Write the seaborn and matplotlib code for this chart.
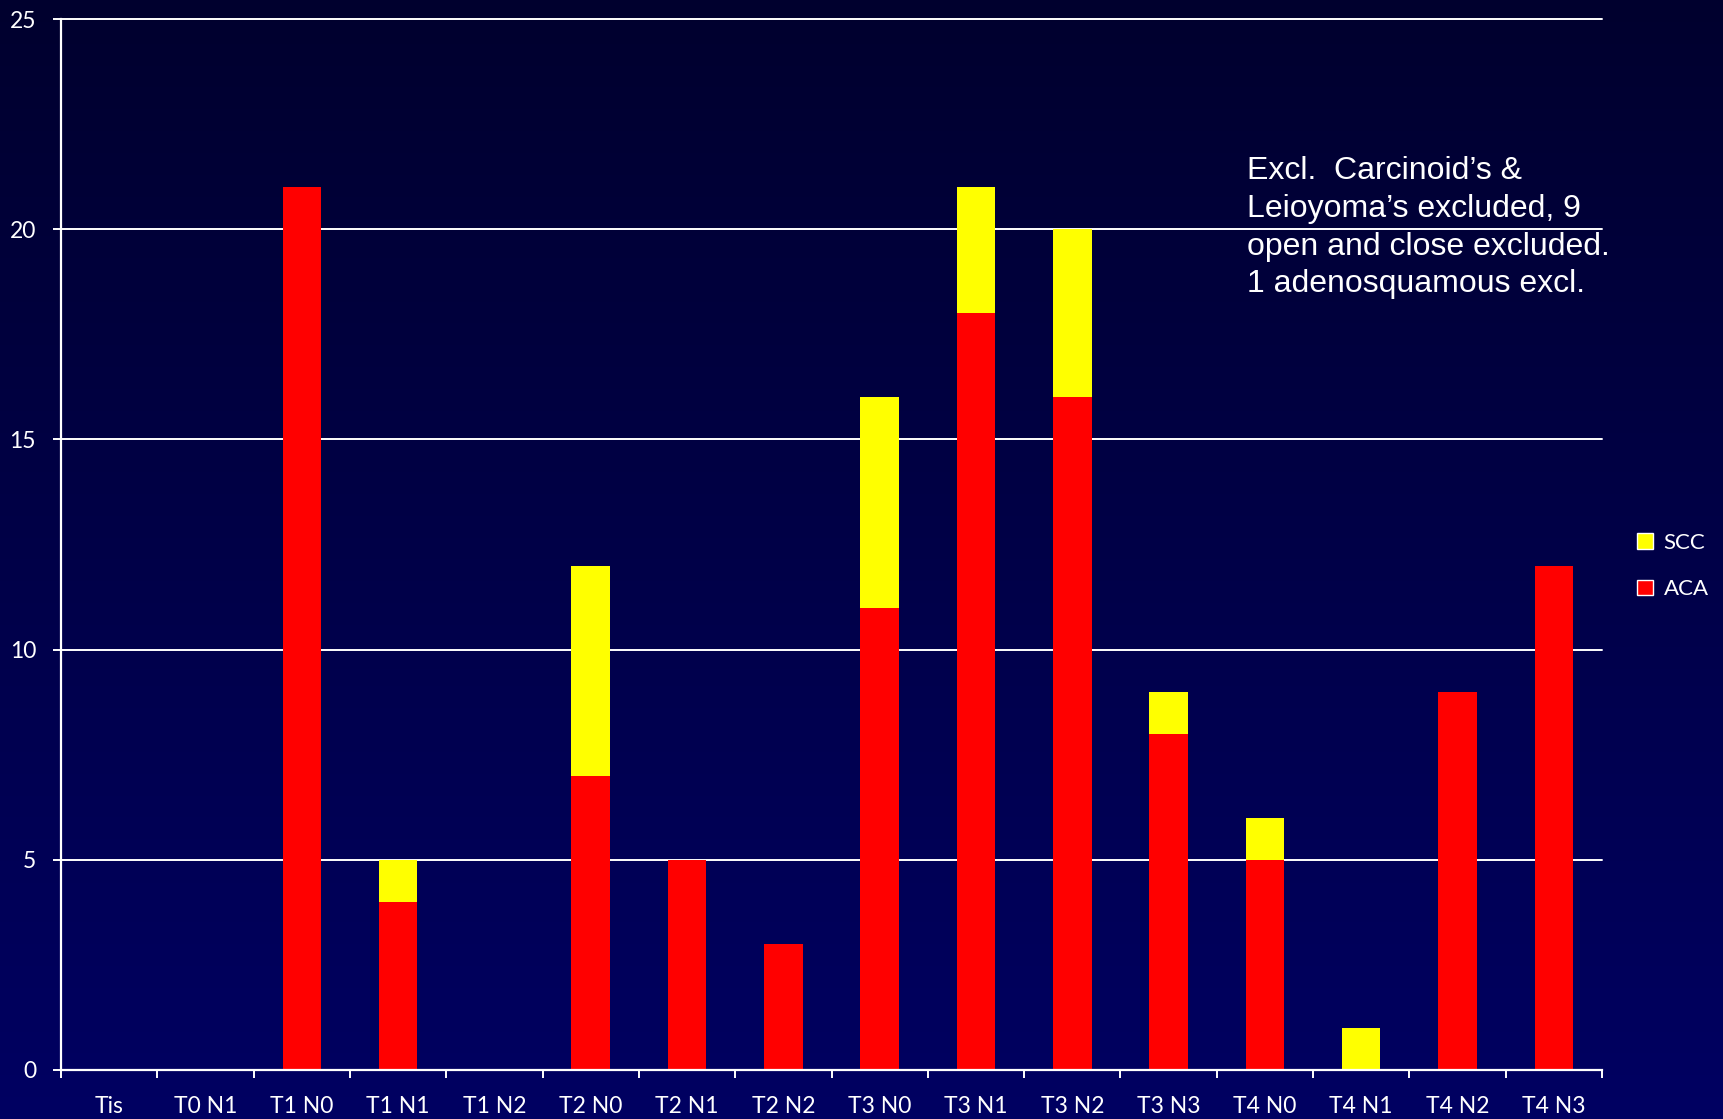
import numpy as np
import pandas as pd
import matplotlib
matplotlib.use("Agg")
import matplotlib.pyplot as plt
from matplotlib.patches import Patch
import seaborn as sns

categories = ["Tis", "T0 N1", "T1 N0", "T1 N1", "T1 N2", "T2 N0", "T2 N1", "T2 N2",
              "T3 N0", "T3 N1", "T3 N2", "T3 N3", "T4 N0", "T4 N1", "T4 N2", "T4 N3"]
aca = [0, 0, 21, 4, 0, 7, 5, 3, 11, 18, 16, 8, 5, 0, 9, 12]
scc = [0, 0, 0, 1, 0, 5, 0, 0, 5, 3, 4, 1, 1, 1, 0, 0]
yticks = [0, 5, 10, 15, 20, 25]
note = "Excl.  Carcinoid\u2019s &\nLeioyoma\u2019s excluded, 9\nopen and close excluded.\n1 adenosquamous excl."

df = pd.DataFrame({"stage": categories, "ACA": aca, "SCC": scc})
df["total"] = df["ACA"] + df["SCC"]

sns.set_theme(style="white")
plt.rcParams["font.family"] = ["Lato", "DejaVu Sans"]

W, H = 1723, 1119
fig = plt.figure(figsize=(W / 100, H / 100), dpi=100)
fig.patch.set_facecolor("#000040")

# gradient background
bg = fig.add_axes([0, 0, 1, 1], zorder=-10)
grad = np.linspace(0, 1, 256).reshape(-1, 1)
top = np.array([0x00, 0x00, 0x2E]) / 255
bot = np.array([0x00, 0x00, 0x62]) / 255
img = top[None, None, :] * (1 - grad[:, :, None]) + bot[None, None, :] * grad[:, :, None]
bg.imshow(img, aspect="auto", extent=[0, 1, 0, 1])
bg.set_axis_off()

ax = fig.add_axes([61 / W, 1 - 1070 / H, (1602 - 61) / W, (1070 - 19) / H])
ax.set_facecolor("none")

sns.barplot(data=df, x="stage", y="total", color="#FFFF00", width=0.4,
            saturation=1, ax=ax, zorder=3, linewidth=0)
sns.barplot(data=df, x="stage", y="ACA", color="#FF0000", width=0.4,
            saturation=1, ax=ax, zorder=4, linewidth=0)

ax.set_xlim(-0.5, len(categories) - 0.5)
ax.set_ylim(0, 25)
ax.set_yticks(yticks)
ax.set_yticklabels([str(t) for t in yticks])
for t in yticks[1:]:
    ax.axhline(t, color="white", lw=1.4, zorder=1, clip_on=False)

ax.set_xlabel("")
ax.set_ylabel("")
for s in ["top", "right"]:
    ax.spines[s].set_visible(False)
for s in ["left", "bottom"]:
    ax.spines[s].set_color("white")
    ax.spines[s].set_linewidth(1.6)
    ax.spines[s].set_zorder(5)

ax.tick_params(axis="y", colors="white", labelsize=16.5, length=6, width=1.4,
               direction="out", pad=12, left=True)
ax.tick_params(axis="x", colors="white", labelsize=16.5, length=0, pad=19, bottom=True)
# minor ticks at category boundaries
ax.set_xticks(np.arange(-0.5, len(categories), 1), minor=True)
ax.tick_params(axis="x", which="minor", colors="white", length=6, width=1.4, direction="out", bottom=True)
ax.grid(False)

handles = [Patch(facecolor="#FFFF00", label="SCC"), Patch(facecolor="#FF0000", label="ACA")]
leg = fig.legend(handles=handles, loc="center left", bbox_to_anchor=(1617 / W, 1 - 566 / H),
                 frameon=False, fontsize=16, labelcolor="white", handlelength=0.7,
                 handleheight=0.7, handletextpad=0.5, labelspacing=1.2)

fig.text(1247 / W, 1 - 156 / H, note, color="white", fontsize=23,
         family=["Liberation Sans", "DejaVu Sans"], va="top", ha="left", linespacing=1.34)

fig.savefig("out.png", dpi=100, facecolor=fig.get_facecolor())
